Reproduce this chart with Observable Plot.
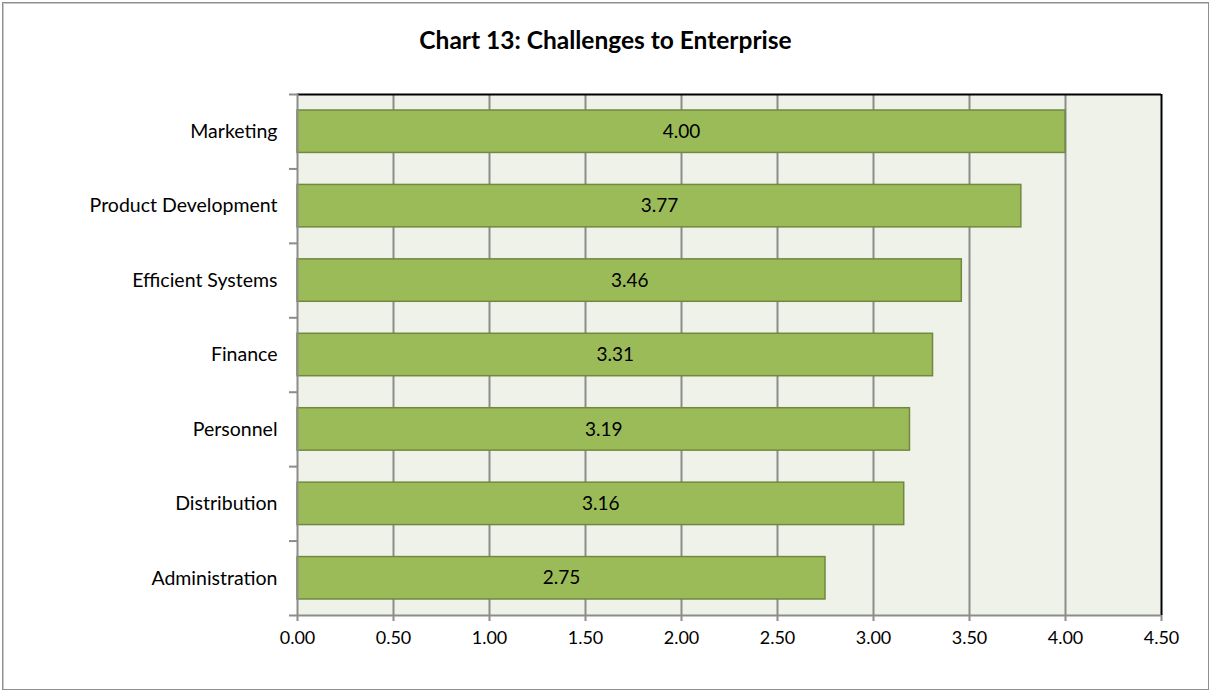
<!DOCTYPE html>
<html>
<head>
<meta charset="utf-8">
<script src="https://cdn.jsdelivr.net/npm/d3@7"></script>
<script src="https://cdn.jsdelivr.net/npm/@observablehq/plot@0.6"></script>
<style>
  html, body { margin: 0; padding: 0; background: #fff; }
  #box { position: relative; width: 1211px; height: 692px; overflow: hidden; font-family: Lato, "Open Sans", sans-serif; }
  #border { position: absolute; left: 2px; top: 2px; width: 1205px; height: 686px; border: 1px solid #8f8f8f; box-shadow: inset 1px 1px 0 #c8c8c8; }
  #title { position: absolute; left: 0; top: 25px; width: 1211px; height: 34px; text-align: center; font-weight: bold; font-size: 24.5px; color: #000; }
  #chart { position: absolute; left: 0; top: 60px; }
</style>
</head>
<body>
<div id="box">
  <div id="border"></div>
  <div id="title">Chart 13: Challenges to Enterprise</div>
  <div id="chart"></div>
</div>
<script>
const categories = ["Marketing", "Product Development", "Efficient Systems", "Finance", "Personnel", "Distribution", "Administration"];
const values = [4.00, 3.77, 3.46, 3.31, 3.19, 3.16, 2.75];
const xTicks = [0, 0.5, 1, 1.5, 2, 2.5, 3, 3.5, 4, 4.5];

const data = categories.map((c, i) => ({cat: c, idx: i, value: values[i]}));
const n = categories.length;
const bounds = d3.range(n + 1);
const centers = d3.range(n).map(i => i + 0.5);
const font = "Lato, 'Open Sans', sans-serif";

const plot = Plot.plot({
  width: 1211,
  height: 632,
  marginTop: 34,
  marginBottom: 77,
  marginLeft: 297,
  marginRight: 50,
  style: {fontFamily: font, fontSize: "18px", color: "#000", background: "transparent"},
  x: {domain: [0, 4.5]},
  y: {domain: [0, n], reverse: true},
  marks: [
    Plot.frame({fill: "#eff2e9", stroke: null}),
    Plot.ruleX(xTicks.slice(1, -1), {stroke: "#8c8c8c", strokeWidth: 2}),
    Plot.rectX(data, {x1: 0, x2: "value", y1: d => d.idx + 0.215, y2: d => d.idx + 0.785, fill: "#9bbb59", stroke: "#71893e", strokeWidth: 1.5}),
    Plot.text(data, {x: d => d.value / 2, y: d => d.idx + 0.5, text: d => d.value.toFixed(2), fill: "#000", fontSize: 19}),
    Plot.ruleY([0], {stroke: "#000", strokeWidth: 2}),
    Plot.ruleX([4.5], {stroke: "#000", strokeWidth: 2}),
    Plot.ruleX([0], {stroke: "#8c8c8c", strokeWidth: 2}),
    Plot.ruleY([n], {stroke: "#8c8c8c", strokeWidth: 2}),
    Plot.axisX(xTicks, {tickSize: 6, tickPadding: 10, tickFormat: d => d.toFixed(2), stroke: "#8c8c8c", strokeWidth: 2, fill: "#000", fontSize: 18, label: null}),
    Plot.axisY(bounds, {tickSize: 8, tickFormat: () => "", stroke: "#8c8c8c", strokeWidth: 2, label: null}),
    Plot.axisY(centers, {tickSize: 0, tickPadding: 20, tickFormat: d => categories[Math.floor(d)], fill: "#000", fontSize: 19.5, label: null})
  ]
});
document.getElementById("chart").appendChild(plot);
</script>
</body>
</html>
